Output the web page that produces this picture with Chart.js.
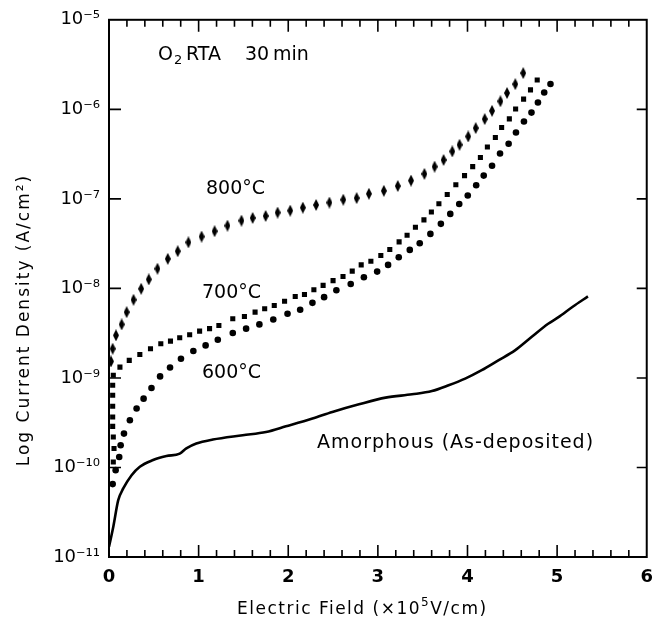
<!DOCTYPE html>
<html><head><meta charset="utf-8">
<script src="https://cdn.jsdelivr.net/npm/chart.js@4.4.1/dist/chart.umd.min.js"></script>
<style>html,body{margin:0;padding:0;background:#fff;}#wrap{width:663px;height:631px;}</style>
</head><body><div id="wrap"><canvas id="c" width="663" height="631"></canvas></div>
<script>
// ---- data ----
const xTicks = [0, 1, 2, 3, 4, 5, 6];
const yTicks = [1e-11, 1e-10, 1e-9, 1e-8, 1e-7, 1e-6, 1e-5];
const yTickLabels = ['10⁻¹¹', '10⁻¹⁰', '10⁻⁹', '10⁻⁸', '10⁻⁷', '10⁻⁶', '10⁻⁵'];
const seriesNames = ['800°C', '700°C', '600°C', 'Amorphous (As-deposited)'];

const x800 = [0.022,0.041,0.078,0.141,0.197,0.274,0.359,0.444,0.541,0.656,0.767,0.886,1.033,1.178,1.322,1.478,1.603,1.748,1.881,2.022,2.163,2.311,2.459,2.614,2.763,2.900,3.067,3.222,3.370,3.519,3.633,3.733,3.830,3.911,4.008,4.092,4.192,4.274,4.367,4.441,4.533,4.622];
const j800 = [1.53e-9,2.12e-9,2.99e-9,3.96e-9,5.43e-9,7.46e-9,9.91e-9,1.26e-8,1.66e-8,2.14e-8,2.60e-8,3.27e-8,3.79e-8,4.35e-8,5.02e-8,5.71e-8,6.12e-8,6.44e-8,7.02e-8,7.38e-8,7.98e-8,8.55e-8,9.08e-8,9.79e-8,1.02e-7,1.14e-7,1.23e-7,1.39e-7,1.60e-7,1.90e-7,2.29e-7,2.72e-7,3.39e-7,4.02e-7,4.98e-7,6.17e-7,7.78e-7,9.62e-7,1.23e-6,1.52e-6,1.91e-6,2.54e-6];

const x700 = [0.048,0.056,0.048,0.041,0.041,0.041,0.041,0.041,0.048,0.122,0.226,0.344,0.463,0.578,0.686,0.789,0.900,1.011,1.122,1.226,1.381,1.511,1.630,1.737,1.844,1.959,2.078,2.181,2.286,2.389,2.500,2.611,2.714,2.814,2.922,3.033,3.133,3.237,3.326,3.419,3.514,3.597,3.681,3.774,3.870,3.967,4.058,4.144,4.222,4.311,4.381,4.467,4.537,4.626,4.703,4.778];
const j700 = [1.15e-10,1.63e-10,2.19e-10,2.88e-10,3.66e-10,4.82e-10,6.40e-10,8.28e-10,1.07e-9,1.32e-9,1.57e-9,1.83e-9,2.12e-9,2.41e-9,2.58e-9,2.81e-9,3.04e-9,3.33e-9,3.55e-9,3.85e-9,4.58e-9,4.86e-9,5.43e-9,5.93e-9,6.44e-9,7.19e-9,8.13e-9,8.55e-9,9.64e-9,1.08e-8,1.22e-8,1.36e-8,1.56e-8,1.83e-8,2.01e-8,2.33e-8,2.72e-8,3.31e-8,3.92e-8,4.81e-8,5.82e-8,7.14e-8,8.83e-8,1.12e-7,1.44e-7,1.82e-7,2.29e-7,2.90e-7,3.79e-7,4.85e-7,6.27e-7,7.83e-7,1.01e-6,1.30e-6,1.65e-6,2.13e-6];

const x600 = [0.041,0.074,0.114,0.130,0.167,0.233,0.308,0.386,0.474,0.570,0.681,0.803,0.941,1.078,1.214,1.381,1.530,1.678,1.833,1.992,2.133,2.270,2.400,2.537,2.697,2.844,2.992,3.114,3.233,3.356,3.467,3.586,3.703,3.808,3.908,4.003,4.097,4.181,4.274,4.363,4.459,4.541,4.630,4.714,4.786,4.856,4.926];
const j600 = [6.52e-11,9.33e-11,1.31e-10,1.77e-10,2.39e-10,3.37e-10,4.55e-10,5.87e-10,7.71e-10,1.04e-9,1.31e-9,1.64e-9,2.00e-9,2.31e-9,2.67e-9,3.17e-9,3.55e-9,3.96e-9,4.50e-9,5.21e-9,5.77e-9,6.90e-9,7.98e-9,9.55e-9,1.12e-8,1.33e-8,1.54e-8,1.83e-8,2.23e-8,2.69e-8,3.19e-8,4.06e-8,5.26e-8,6.79e-8,8.77e-8,1.09e-7,1.42e-7,1.82e-7,2.34e-7,3.21e-7,4.12e-7,5.51e-7,7.31e-7,9.20e-7,1.19e-6,1.54e-6,1.92e-6];

const xAm = [0,0.048,0.103,0.159,0.252,0.344,0.492,0.641,0.789,0.863,0.974,1.159,1.492,1.752,1.974,2.270,2.492,2.789,3.086,3.381,3.603,3.789,3.974,4.159,4.344,4.530,4.714,4.900,5.011,5.178,5.344];
const jAm = [1.30e-11,2.18e-11,4.31e-11,5.83e-11,8.20e-11,1.02e-10,1.21e-10,1.34e-10,1.43e-10,1.63e-10,1.85e-10,2.05e-10,2.29e-10,2.49e-10,2.88e-10,3.52e-10,4.17e-10,5.08e-10,6.03e-10,6.56e-10,7.14e-10,8.28e-10,9.82e-10,1.22e-9,1.57e-9,2.03e-9,2.86e-9,4.03e-9,4.74e-9,6.28e-9,8.13e-9];

// ---- helpers ----
const pts = (xs, ys) => xs.map((x, i) => ({x: x, y: ys[i]}));
function diamond(w, h) {
  const c = document.createElement('canvas'); c.width = w; c.height = h;
  const g = c.getContext('2d'); g.fillStyle = '#000';
  g.beginPath(); g.moveTo(w/2, 0); g.lineTo(w, h/2); g.lineTo(w/2, h); g.lineTo(0, h/2); g.closePath(); g.fill();
  return c;
}
const FONT = '"DejaVu Sans", "Liberation Sans", sans-serif';

const framePlugin = {
  id: 'frame',
  afterDatasetsDraw(chart) {
    const ctx = chart.ctx, a = chart.chartArea, xs = chart.scales.x, ys = chart.scales.y;
    ctx.save();
    ctx.strokeStyle = '#000'; ctx.lineWidth = 2;
    ctx.strokeRect(a.left, a.top, a.right - a.left, a.bottom - a.top);
    ctx.lineWidth = 1.6;
    ctx.beginPath();
    for (let k = 1; k < 30; k++) {
      const px = xs.getPixelForValue(k / 5);
      const L = (k % 5 === 0) ? 12 : 7;
      ctx.moveTo(px, a.bottom); ctx.lineTo(px, a.bottom - L);
      ctx.moveTo(px, a.top); ctx.lineTo(px, a.top + L);
    }
    yTicks.forEach((v, i) => {
      if (i === 0 || i === yTicks.length - 1) return;
      const py = ys.getPixelForValue(v);
      ctx.moveTo(a.left, py); ctx.lineTo(a.left + 12, py);
      ctx.moveTo(a.right, py); ctx.lineTo(a.right - 10, py);
    });
    ctx.stroke();
    ctx.restore();
  },
  afterDraw(chart) {
    const ctx = chart.ctx;
    ctx.save();
    ctx.fillStyle = '#000';
    ctx.textBaseline = 'alphabetic'; ctx.textAlign = 'left';
    // O2 RTA 30 min
    ctx.font = '19px ' + FONT;
    ctx.fillText('O', 158, 60);
    ctx.font = '13px ' + FONT;
    ctx.fillText('2', 174, 64);
    ctx.font = '19px ' + FONT;
    ctx.fillText('RTA', 186, 60);
    ctx.fillText('30', 245, 60);
    ctx.fillText('min', 273, 60);
    // series labels
    ctx.font = '19px ' + FONT;
    ctx.fillText(seriesNames[0], 206, 194);
    ctx.fillText(seriesNames[1], 202, 298);
    ctx.fillText(seriesNames[2], 202, 378);
    ctx.letterSpacing = '1px';
    ctx.fillText(seriesNames[3], 317, 448);
    // x-axis title
    ctx.font = '17px ' + FONT;
    ctx.letterSpacing = '1.5px';
    let x = 237; const by = 614;
    const s = 'Electric Field (×10';
    ctx.fillText(s, x, by); x += ctx.measureText(s).width;
    ctx.font = '12px ' + FONT; ctx.fillText('5', x, by - 8); x += ctx.measureText('5').width;
    ctx.font = '17px ' + FONT; ctx.fillText('V/cm)', x, by);
    // y-axis title
    ctx.translate(29, 320); ctx.rotate(-Math.PI / 2);
    ctx.font = '17px ' + FONT; ctx.letterSpacing = '2px'; ctx.textAlign = 'center';
    ctx.fillText('Log Current Density (A/cm²)', 0, 0);
    ctx.restore();
  }
};

new Chart(document.getElementById('c'), {
  type: 'scatter',
  data: {
    datasets: [
      {label: seriesNames[0], data: pts(x800, j800), pointStyle: diamond(6, 12), pointRadius: 6, backgroundColor: '#000', borderWidth: 0},
      {label: seriesNames[1], data: pts(x700, j700), pointStyle: 'rect', pointRadius: 3.6, backgroundColor: '#000', borderColor: '#000', borderWidth: 0},
      {label: seriesNames[2], data: pts(x600, j600), pointStyle: 'circle', pointRadius: 3.3, backgroundColor: '#000', borderColor: '#000', borderWidth: 0},
      {label: seriesNames[3], data: pts(xAm, jAm), showLine: true, pointRadius: 0, borderColor: '#000', borderWidth: 2.6, cubicInterpolationMode: 'monotone', fill: false}
    ]
  },
  options: {
    responsive: false, animation: false, devicePixelRatio: 1,
    layout: {padding: {left: 0, right: 14, top: 19, bottom: 0}},
    plugins: {legend: {display: false}, tooltip: {enabled: false}, title: {display: false}},
    scales: {
      x: {
        type: 'linear', min: 0, max: 6,
        afterBuildTicks: s => { s.ticks = xTicks.map(v => ({value: v})); },
        afterFit: s => { s.height = 74; },
        grid: {display: false, drawTicks: false}, border: {display: false},
        ticks: {padding: 10, color: '#000', font: {family: FONT, size: 18, weight: 'bold'}, maxRotation: 0, callback: v => String(v)}
      },
      y: {
        type: 'logarithmic', min: 1e-11, max: 1e-5,
        afterBuildTicks: s => { s.ticks = yTicks.map(v => ({value: v})); },
        afterFit: s => { s.width = 109; },
        grid: {display: false, drawTicks: false}, border: {display: false},
        ticks: {padding: 9, color: '#000', font: {family: FONT, size: 18}, callback: (v, i) => yTickLabels[i]}
      }
    }
  },
  plugins: [framePlugin]
});
</script></body></html>
